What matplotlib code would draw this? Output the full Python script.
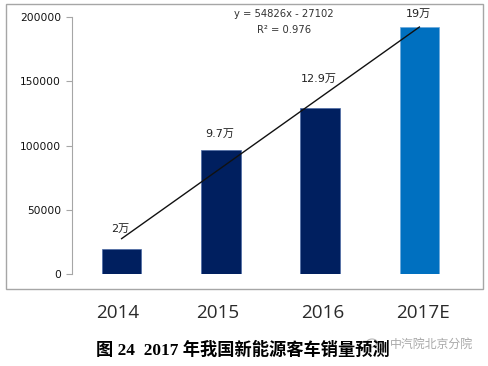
import matplotlib
matplotlib.use('Agg')
import matplotlib.pyplot as plt
import numpy as np
from matplotlib.patches import Ellipse, Rectangle

W, H = 488, 366
CJK = ['DejaVu Sans', 'Noto Sans CJK SC']

years = ['2014', '2015', '2016', '2017E']
sales = [20000, 97000, 129000, 192000]
labels = ['2万', '9.7万', '12.9万', '19万']
bar_colors = ['#001f5f', '#001f5f', '#001f5f', '#0070c0']
yticks = [0, 50000, 100000, 150000, 200000]
trend_slope = 54826
trend_intercept = -27102
caption = '图 24  2017 年我国新能源客车销量预测'
watermark = '中汽院北京分院'


def fx(px):
    return px / W


def fy(py):
    return 1 - py / H


fig = plt.figure(figsize=(W / 100, H / 100), dpi=100)
fig.add_artist(Rectangle((fx(5.5), fy(289)), fx(477), 285.5 / H, transform=fig.transFigure,
                         fill=False, edgecolor='#a6a6a6', linewidth=1.0))

ax = fig.add_axes([fx(72), fy(274.3), fx(397), 257.3 / H])
x = np.arange(len(years))
ax.bar(x, sales, width=0.4, color=bar_colors, edgecolor=['#4a6aa5'] * 3 + ['#6aa8dc'], linewidth=0.5)

# trendline from the fitted equation shown in the chart
trend = trend_slope * (x + 1) + trend_intercept
ax.plot(x, trend, color='#111111', linewidth=1.0)

ax.set_xlim(-0.5, 3.5)
ax.set_ylim(0, 200000)
ax.set_yticks(yticks)
ax.set_yticklabels([str(v) for v in yticks], fontsize=7.7, color='#111111')
ax.set_xticks([])
ax.tick_params(axis='y', length=4, width=0.8, color='#a6a6a6', pad=4)
for side in ['top', 'right', 'bottom']:
    ax.spines[side].set_visible(False)
ax.spines['left'].set_color('#a6a6a6')
ax.patch.set_alpha(0)

# data labels, placed by hand like the original
label_pos = [(120, 229), (220, 134), (319, 79), (418, 13.5)]
for (px, py), txt in zip(label_pos, labels):
    fig.text(fx(px), fy(py), txt, fontsize=8, family=CJK, color='#222222', ha='center', va='center')

fig.text(fx(283.5), fy(14), 'y = 54826x - 27102', fontsize=7.2, color='#333333', ha='center', va='center')
fig.text(fx(284), fy(30), 'R² = 0.976', fontsize=7.2, color='#333333', ha='center', va='center')

# year labels sit under the frame, not quite under the bars
year_pos = [118, 218, 322.5, 423]
for px, txt in zip(year_pos, years):
    fig.text(fx(px), fy(313), txt, fontsize=13.6, family='Open Sans', color='#2a2a2a', ha='center', va='center')

fig.text(fx(242.5), fy(350), caption, fontsize=12.4, fontweight='bold', color='black',
         family=['Liberation Serif', 'Noto Sans CJK SC'], ha='center', va='center')

# watermark with the little chat icon
fig.add_artist(Ellipse((fx(372), fy(343)), fx(11), 8 / H, transform=fig.transFigure,
                       fill=False, edgecolor='#b5b5b5', linewidth=0.8))
fig.add_artist(Ellipse((fx(380), fy(346)), fx(9), 7 / H, transform=fig.transFigure,
                       fill=False, edgecolor='#b5b5b5', linewidth=0.8))
fig.text(fx(431), fy(344), watermark, fontsize=8.6, color='#9a9a9a', alpha=0.85,
         family='Noto Sans CJK SC', ha='center', va='center')

fig.savefig('out.png', dpi=100)
plt.close(fig)
